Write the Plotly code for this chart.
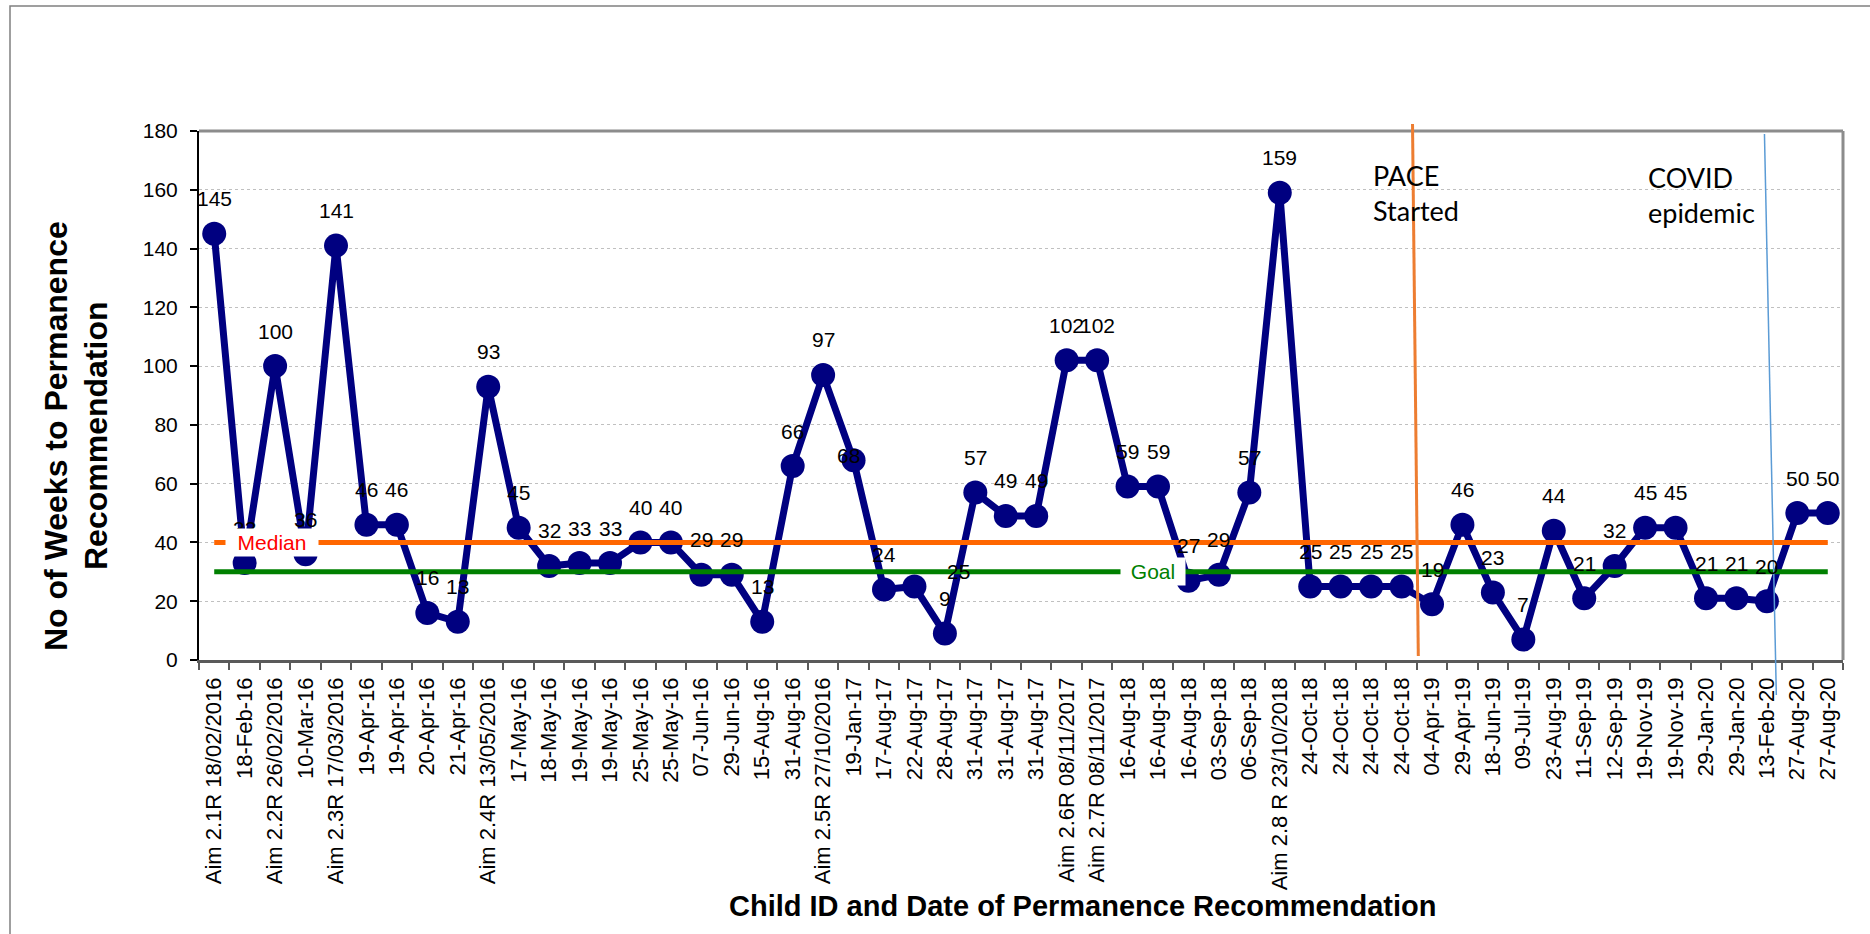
import plotly.graph_objects as go

# ---------------- data ----------------
labels = [
    "Aim 2.1R 18/02/2016", "18-Feb-16", "Aim 2.2R 26/02/2016", "10-Mar-16", "Aim 2.3R 17/03/2016",
    "19-Apr-16", "19-Apr-16", "20-Apr-16", "21-Apr-16", "Aim 2.4R 13/05/2016",
    "17-May-16", "18-May-16", "19-May-16", "19-May-16", "25-May-16",
    "25-May-16", "07-Jun-16", "29-Jun-16", "15-Aug-16", "31-Aug-16",
    "Aim 2.5R 27/10/2016", "19-Jan-17", "17-Aug-17", "22-Aug-17", "28-Aug-17",
    "31-Aug-17", "31-Aug-17", "31-Aug-17", "Aim 2.6R 08/11/2017", "Aim 2.7R 08/11/2017",
    "16-Aug-18", "16-Aug-18", "16-Aug-18", "03-Sep-18", "06-Sep-18",
    "Aim 2.8 R 23/10/2018", "24-Oct-18", "24-Oct-18", "24-Oct-18", "24-Oct-18",
    "04-Apr-19", "29-Apr-19", "18-Jun-19", "09-Jul-19", "23-Aug-19",
    "11-Sep-19", "12-Sep-19", "19-Nov-19", "19-Nov-19", "29-Jan-20",
    "29-Jan-20", "13-Feb-20", "27-Aug-20", "27-Aug-20",
]
weeks = [
    145, 33, 100, 36, 141, 46, 46, 16, 13, 93,
    45, 32, 33, 33, 40, 40, 29, 29, 13, 66,
    97, 68, 24, 25, 9, 57, 49, 49, 102, 102,
    59, 59, 27, 29, 57, 159, 25, 25, 25, 25,
    19, 46, 23, 7, 44, 21, 32, 45, 45, 21,
    21, 20, 50, 50,
]
median_value = 40
goal_value = 30
pace_position = 39.5     # between 24-Oct-18 and 04-Apr-19
covid_position = 51.1    # at 13-Feb-20

# ---------------- figure ----------------
W, H = 1870, 934
ML, MR, MT, MB = 199, 27, 131, 274
n = len(weeks)
xs = list(range(n))
NAVY = "#000080"
FONT = "Arial, Liberation Sans, sans-serif"

fig = go.Figure()
fig.add_trace(go.Scatter(
    x=xs, y=weeks, mode="lines+markers",
    line=dict(color=NAVY, width=7),
    marker=dict(color=NAVY, size=24),
    showlegend=False, hoverinfo="x+y",
))
fig.add_trace(go.Scatter(
    x=[xs[0], xs[-1]], y=[median_value, median_value], mode="lines",
    line=dict(color="#FF6600", width=5), showlegend=False,
))
fig.add_trace(go.Scatter(
    x=[xs[0], xs[-1]], y=[goal_value, goal_value], mode="lines",
    line=dict(color="#008000", width=5), showlegend=False,
))

annotations = []
# manually displaced labels in the original chart (dx in categories, dy in px)
label_nudge = {21: (-0.15, -30), 23: (1.45, -20)}
for i, v in enumerate(weeks):
    dx, dy = label_nudge.get(i, (0, 0))
    annotations.append(dict(
        x=i + dx, y=v, xref="x", yref="y", text=str(v), showarrow=False,
        xanchor="center", yanchor="middle",
        yshift=35 + dy, font=dict(size=21, color="black", family=FONT),
    ))

annotations.append(dict(
    x=1.9, y=median_value, xref="x", yref="y", text="Median", showarrow=False,
    xanchor="center", yanchor="middle",
    bgcolor="white", width=88, borderpad=2,
    font=dict(size=21, color="#FF0000", family=FONT),
))
annotations.append(dict(
    x=30.85, y=goal_value, xref="x", yref="y", text="Goal", showarrow=False,
    xanchor="center", yanchor="middle",
    bgcolor="white", width=60, borderpad=2,
    font=dict(size=21, color="#008000", family=FONT),
))

pw = W - ML - MR
ph = H - MT - MB


def px_x(p):
    return (p - ML) / pw


def px_y(p):
    return (H - MB - p) / ph


def idx_to_paper(v):
    return (v + 0.5) / n


annotations.append(dict(
    x=px_x(1371), y=px_y(193), xref="paper", yref="paper", xanchor="left", yanchor="middle",
    text="PACE<br>Started", showarrow=False, align="left",
    font=dict(size=27, color="black", family="Lato, Open Sans, sans-serif"),
))
annotations.append(dict(
    x=px_x(1646), y=px_y(195), xref="paper", yref="paper", xanchor="left", yanchor="middle",
    text="COVID<br>epidemic", showarrow=False, align="left",
    font=dict(size=27, color="black", family="Lato, Open Sans, sans-serif"),
))

# axis titles
annotations.append(dict(
    x=px_x(56), y=px_y(436), xref="paper", yref="paper", textangle=-90,
    xanchor="center", yanchor="middle",
    text="No of Weeks to Permanence", showarrow=False,
    font=dict(size=32, color="black", family=FONT, weight="bold"),
))
annotations.append(dict(
    x=px_x(96), y=px_y(436), xref="paper", yref="paper", textangle=-90,
    xanchor="center", yanchor="middle",
    text="Recommendation", showarrow=False,
    font=dict(size=32, color="black", family=FONT, weight="bold"),
))
annotations.append(dict(
    x=px_x(1082), y=px_y(906), xref="paper", yref="paper",
    xanchor="center", yanchor="middle",
    text="Child ID and Date of Permanence Recommendation", showarrow=False,
    font=dict(size=29, color="black", family=FONT, weight="bold"),
))

shapes = [
    # outer chart border
    dict(type="rect", xref="paper", yref="paper", x0=px_x(10), y0=-1.0, x1=1.2, y1=px_y(6),
         line=dict(color="#808080", width=1.5), layer="below"),
    # plot area top and right border
    dict(type="line", xref="paper", yref="paper", x0=0, y0=1, x1=1, y1=1,
         line=dict(color="#8c8c8c", width=3)),
    dict(type="line", xref="paper", yref="paper", x0=1, y0=0, x1=1, y1=1,
         line=dict(color="#8c8c8c", width=3)),
    # PACE started line
    dict(type="line", xref="paper", yref="paper",
         x0=idx_to_paper(pace_position - 0.14), y0=px_y(124),
         x1=idx_to_paper(pace_position + 0.05), y1=px_y(656),
         line=dict(color="#ED7D31", width=3)),
    # COVID line
    dict(type="line", xref="paper", yref="paper",
         x0=idx_to_paper(covid_position - 0.18), y0=px_y(134),
         x1=idx_to_paper(covid_position + 0.21), y1=px_y(695),
         line=dict(color="#5B9BD5", width=1.5)),
]

fig.update_layout(
    width=W, height=H,
    margin=dict(l=ML, r=MR, t=MT, b=MB, autoexpand=False),
    paper_bgcolor="white", plot_bgcolor="white",
    annotations=annotations, shapes=shapes,
    showlegend=False,
)
fig.update_xaxes(
    range=[-0.5, n - 0.5], tickmode="array", tickvals=xs, ticktext=labels,
    tickangle=-90, ticks="outside", ticklen=4, tickcolor="rgba(0,0,0,0)",
    ticklabelstandoff=2,
    tickfont=dict(size=22, color="black", family=FONT),
    showline=True, linecolor="#5a5a5a", linewidth=2.5,
    showgrid=False, zeroline=False,
    minor=dict(tickmode="array", tickvals=[i - 0.5 for i in range(n + 1)],
               ticks="outside", ticklen=7, tickcolor="#5a5a5a", tickwidth=1.5, showgrid=False),
)
fig.update_yaxes(
    range=[0, 180], tick0=0, dtick=20,
    ticks="outside", ticklen=7, tickcolor="black", tickwidth=1.5,
    ticklabelstandoff=8,
    tickfont=dict(size=21, color="black", family=FONT),
    showline=True, linecolor="black", linewidth=2,
    showgrid=True, gridcolor="#c0c0c0", griddash="dot", gridwidth=1,
    zeroline=False,
)

fig.write_html(
    "out.html",
    config={"displayModeBar": False},
    post_script="document.body.style.margin='0';document.body.style.overflow='hidden';",
)
